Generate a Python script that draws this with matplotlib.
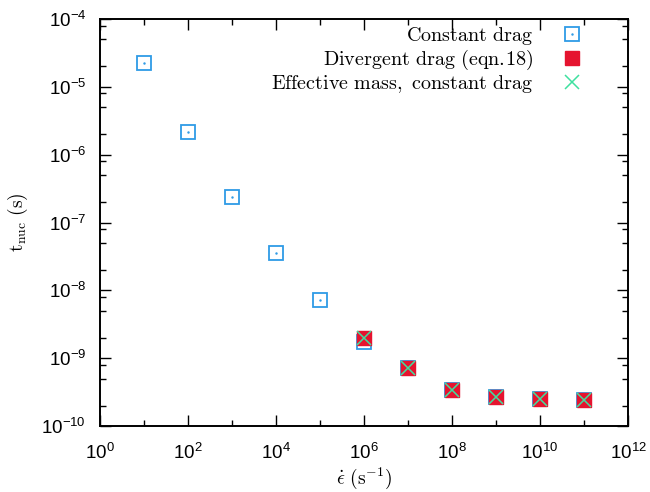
import matplotlib
matplotlib.use("Agg")
import matplotlib.pyplot as plt
import matplotlib.ticker as mticker
import numpy as np

# strain rate (s^-1)
rate = [1e1, 1e2, 1e3, 1e4, 1e5, 1e6, 1e7, 1e8, 1e9, 1e10, 1e11]
rate_div = [1e6, 1e7, 1e8, 1e9, 1e10, 1e11]

# nucleation time (s)
t_const = [2.25e-5, 2.16e-6, 2.37e-7, 3.55e-8, 7.2e-9, 1.73e-9,
           7.15e-10, 3.36e-10, 2.65e-10, 2.47e-10, 2.39e-10]
t_div = [1.98e-9, 7.15e-10, 3.36e-10, 2.65e-10, 2.47e-10, 2.39e-10]
t_eff = [1.98e-9, 7.15e-10, 3.36e-10, 2.65e-10, 2.47e-10, 2.39e-10]

blue = '#2e9be6'
red = '#e5142f'
green = '#3ee0a0'

plt.rcParams['font.family'] = ['Liberation Sans', 'DejaVu Sans']

fig = plt.figure(figsize=(6.5, 4.92), dpi=100)
ax = fig.add_axes([100 / 650, 66 / 492, 528 / 650, 407 / 492])

ax.set_xscale('log')
ax.set_yscale('log')

h1, = ax.plot(rate, t_const, ls='none', marker='s', ms=9.5, mfc='none',
              mec=blue, mew=1.3)
h1d, = ax.plot(rate, t_const, ls='none', marker='.', ms=1.5, color=blue)
h2, = ax.plot(rate_div, t_div, ls='none', marker='s', ms=9.5, mfc=red,
              mec=red, mew=1.0)
h3, = ax.plot(rate_div, t_eff, ls='none', marker='x', ms=9.5, color=green,
              mew=1.1)

ax.set_xlim(1e0, 1e12)
ax.set_ylim(1e-10, 1e-4)

ax.xaxis.set_major_locator(mticker.FixedLocator([10.0 ** k for k in range(0, 13, 2)]))
ax.xaxis.set_minor_locator(mticker.FixedLocator([10.0 ** k for k in range(1, 12, 2)]))
ax.xaxis.set_minor_formatter(mticker.NullFormatter())
ax.yaxis.set_major_locator(mticker.LogLocator(base=10, numticks=20))
ax.yaxis.set_minor_locator(mticker.LogLocator(base=10, subs=[2, 5, 8], numticks=20))
ax.yaxis.set_minor_formatter(mticker.NullFormatter())

ax.tick_params(which='both', direction='in', top=True, right=True,
               width=1.0, labelsize=13.5)
ax.tick_params(which='major', length=8)
ax.tick_params(which='minor', length=4)
ax.tick_params(axis='x', pad=12)
ax.tick_params(axis='y', pad=10)
for s in ax.spines.values():
    s.set_linewidth(1.4)

xl = ax.set_xlabel(r'$\dot{\epsilon}\ (\mathrm{s}^{-1})$', fontsize=14, labelpad=2)
yl = ax.set_ylabel(r'$\mathrm{t}_{\mathrm{nuc}}\ (\mathrm{s})$', fontsize=14, labelpad=8)
xl.set_math_fontfamily('cm')
yl.set_math_fontfamily('cm')

leg = ax.legend([(h1, h1d), h2, h3],
                [r'$\mathrm{Constant\ drag}$',
                 r'$\mathrm{Divergent\ drag\ (eqn.\!18)}$',
                 r'$\mathrm{Effective\ mass,\ constant\ drag}$'],
                loc='upper right', bbox_to_anchor=(0.95, 1.02),
                markerfirst=False, frameon=False, fontsize=14.5,
                handlelength=1.5, handletextpad=1.2, labelspacing=0.05,
                borderaxespad=0.3)
for t in leg.get_texts():
    t.set_math_fontfamily('cm')

fig.savefig('out.png', dpi=100)
